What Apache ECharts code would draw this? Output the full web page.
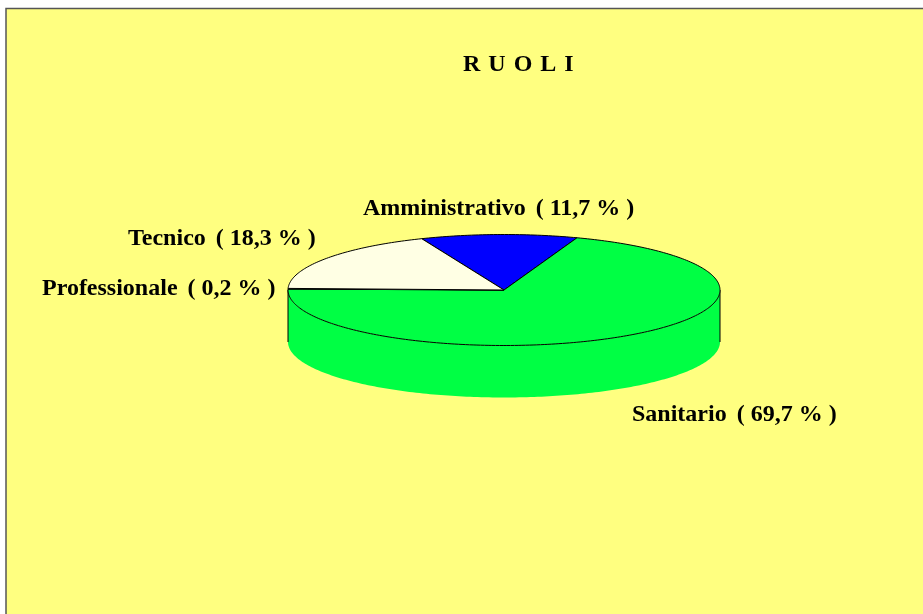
<!DOCTYPE html>
<html>
<head>
<meta charset="utf-8">
<title>Ruoli</title>
<style>
  html, body { margin: 0; padding: 0; background: #fff; }
  #chart { width: 923px; height: 614px; }
</style>
</head>
<body>
<div id="chart"></div>
<script src="https://cdn.jsdelivr.net/npm/echarts@6/dist/echarts.min.js"></script>
<script>
// dati, in senso orario a partire dal settore blu
const categories = ['Amministrativo', 'Sanitario', 'Professionale', 'Tecnico']
const percentages = [11.7, 69.7, 0.2, 18.3]
const sliceColors = ['#0000ff', '#00ff44', '#fffbd0', '#ffffe4']
const percentLabels = ['11,7', '69,7', '0,2', '18,3']

// geometria della torta "3D"
const cx = 504
const cy = 290
const rx = 216
const ry = 55.5
const depth = 52
const startDeg = -22.4 // angolo del primo settore, da ore 12 in senso orario

// posizione delle etichette (angolo sinistro, centro verticale)
const labelX = [363, 632, 42, 128]
const labelY = [209, 415, 289, 239]

const fontFamily = '"Liberation Serif", "Times New Roman", serif'
const total = percentages.reduce((a, b) => a + b, 0)

// punto sull'ellisse per un angolo in gradi
function ellipsePoint(deg, yOffset) {
  const rad = (deg * Math.PI) / 180
  return [cx + rx * Math.sin(rad), cy + yOffset - ry * Math.cos(rad)]
}

function arcPoints(from, to, yOffset) {
  const points = []
  const steps = Math.max(1, Math.ceil(Math.abs(to - from)))
  for (let i = 0; i <= steps; i++) {
    points.push(ellipsePoint(from + ((to - from) * i) / steps, yOffset))
  }
  return points
}

function renderSlice(params, api) {
  const index = params.dataIndex
  const before = percentages.slice(0, index).reduce((a, b) => a + b, 0)
  const from = startDeg + (before / total) * 360
  const to = from + (api.value(1) / total) * 360
  const children = []

  // parete laterale: solo la parte del settore nella metà anteriore
  const wallFrom = Math.max(from, 90)
  const wallTo = Math.min(to, 270)
  if (wallTo > wallFrom) {
    children.push({
      type: 'polygon',
      shape: {
        points: arcPoints(wallFrom, wallTo, 0).concat(arcPoints(wallTo, wallFrom, depth))
      },
      style: { fill: sliceColors[index], stroke: null }
    })
    ;[wallFrom, wallTo].forEach(deg => {
      const top = ellipsePoint(deg, 0)
      const bottom = ellipsePoint(deg, depth)
      children.push({
        type: 'line',
        shape: { x1: top[0], y1: top[1], x2: bottom[0], y2: bottom[1] },
        style: { stroke: '#000', lineWidth: 1 }
      })
    })
  }

  // faccia superiore
  children.push({
    type: 'polygon',
    shape: { points: [[cx, cy]].concat(arcPoints(from, to, 0)) },
    style: { fill: sliceColors[index], stroke: '#000', lineWidth: 1 }
  })

  // etichetta
  children.push({
    type: 'text',
    x: labelX[index],
    y: labelY[index],
    style: {
      text: categories[index] + '\u2004\u200a( ' + percentLabels[index] + ' % )',
      font: 'bold 24px ' + fontFamily,
      fill: '#000',
      align: 'left',
      verticalAlign: 'middle'
    }
  })

  return { type: 'group', children }
}

const chart = echarts.init(document.getElementById('chart'), null, { renderer: 'canvas' })
chart.setOption({
  animation: false,
  backgroundColor: '#ffffff',
  title: {
    text: 'R\u2004U\u2004O\u2004L\u2004I',
    left: 463,
    top: 53,
    padding: 0,
    textStyle: { fontFamily, fontWeight: 'bold', fontSize: 24, color: '#000' }
  },
  graphic: [
    // sfondo giallo con cornice su due lati
    {
      type: 'rect',
      z: -10,
      shape: { x: 6, y: 9, width: 917, height: 605 },
      style: { fill: '#ffff80' }
    },
    {
      type: 'polyline',
      z: -9,
      shape: { points: [[6, 614], [6, 8.5], [923, 8.5]] },
      style: { stroke: '#555', lineWidth: 1.5, fill: null }
    }
  ],
  series: [
    {
      type: 'custom',
      coordinateSystem: 'none',
      renderItem: renderSlice,
      silent: true,
      data: categories.map((name, i) => [i, percentages[i]])
    }
  ]
})
</script>
</body>
</html>
